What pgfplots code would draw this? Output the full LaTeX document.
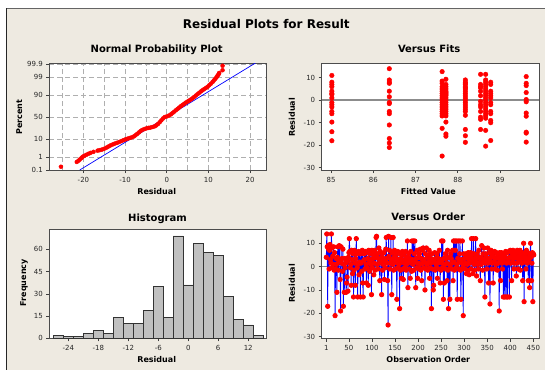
\documentclass[border=0pt]{standalone}
\usepackage{fontspec}
\setmainfont{DejaVu Sans}
\usepackage{pgfplots}
\pgfplotsset{compat=1.18}
\usepackage{pgfplotstable}
\definecolor{bg}{RGB}{238,234,225}
\definecolor{frm}{RGB}{100,100,100}
\definecolor{hbar}{RGB}{192,192,192}
\definecolor{grd}{RGB}{175,175,175}
\definecolor{pred}{RGB}{255,0,0}
\definecolor{pblue}{RGB}{0,0,255}

\pgfplotsset{
  mp/.style={
    scale only axis,
    axis background/.style={fill=white},
    axis line style={draw=black!70, line width=1pt},
    tick align=outside, tick pos=left,
    major tick length=3pt,
    tick style={black!75, line width=0.6pt},
    tick label style={font=\fontsize{7}{8}\selectfont, text=black!85},
    xticklabel style={yshift=-0.5pt},
    clip=true,
  }
}

\pgfplotstableread[row sep=\\]{
y\\
4\\14\\8.5\\-17\\9\\7.5\\-1\\7\\9.5\\3\\
1.5\\14\\8\\-0.5\\4.5\\1\\8.5\\-1.5\\6\\-21\\
-1\\3.5\\1\\-11\\4\\8.5\\-1.5\\2\\9\\3\\
-5.5\\-19\\8.5\\1.5\\3.5\\-2\\7.5\\-17\\1\\-11\\
3.5\\-0.5\\1.5\\-11\\-7\\-4.5\\2.5\\-10.5\\4\\6\\
12\\6.5\\-0.5\\1\\-8\\7\\3\\-3\\5.5\\-13\\
-1.5\\7\\1.5\\-8\\3.5\\12\\5.5\\-0.5\\-13\\1\\
6.5\\-3.5\\2\\5.5\\-13\\1.5\\6\\-2\\7\\-7\\
-13\\2.5\\5.5\\3\\-1\\6.5\\1\\-7\\6\\-0.5\\
3.5\\-8\\7\\1.5\\-2\\5.5\\3\\1\\-12\\7\\
-0.5\\3.5\\5.5\\-3.5\\1.5\\7\\-1.5\\4\\12.5\\13\\
1\\5.5\\-1\\3.5\\8\\1.5\\-6\\6.5\\2.5\\3.5\\
-12\\5.5\\-1.5\\1\\3.5\\6\\-5.5\\2\\-0.5\\7.5\\
12.5\\3.5\\1.5\\-6\\-25\\13\\4.5\\7\\-1\\1.5\\
12.5\\3\\-12\\6\\1\\12.5\\-1.5\\4\\7\\2.5\\
-1\\5.5\\3.5\\-14\\1.5\\6.5\\-0.5\\3\\1\\-18\\
5.5\\-1.5\\3.5\\-5\\2\\6.5\\-1\\-5.5\\5\\1.5\\
-0.5\\3\\6.5\\-1.5\\1\\4\\11\\-9\\2.5\\5.5\\
-1\\3.5\\-5\\6.5\\1.5\\-2\\11\\3\\1\\11\\
-1.5\\5.5\\11\\2\\-9\\3.5\\-0.5\\7\\-5\\1.5\\
4\\-1\\5.5\\1\\7.5\\-1.5\\3.5\\-6\\1.5\\7\\
8\\-0.5\\3\\2\\-10\\5.5\\-1\\8\\1\\4\\
-1.5\\5\\2\\7\\-5\\-0.5\\3.5\\1.5\\-18\\5.5\\
-1\\3\\-10\\-8\\2\\6\\-1.5\\3.5\\1\\-0.5\\
5.5\\-5\\1.5\\3.5\\-1\\7\\2.5\\-7\\3\\-1.5\\
11\\1.5\\-0.5\\11\\-14\\3.5\\-7\\1\\5.5\\-1\\
3.5\\1.5\\-6\\7\\-1.5\\-18\\4\\1\\-14\\-0.5\\
5.5\\3.5\\-1\\1.5\\7\\-6\\11\\2\\-1.5\\11\\
7\\-0.5\\11\\1\\-14\\3.5\\11\\-1\\2\\5.5\\
11\\-1.5\\-14\\3\\1.5\\11\\-0.5\\-21\\5.5\\1\\
3.5\\-1\\1.5\\5.5\\-3\\4\\1\\-1.5\\6\\3\\
-3.5\\1.5\\4.5\\6\\-1\\12\\2.5\\3.5\\-3\\12\\
5.5\\1\\-1.5\\3.5\\12\\2\\-4\\5.5\\1\\4\\
-1\\7\\3.5\\1.5\\-6\\4\\1\\9\\3.5\\-1.5\\
5.5\\2\\8\\3\\-13\\1.5\\5.5\\4\\-1\\3\\
8\\1.5\\-7\\3.5\\6\\-16\\2\\7\\4\\-1\\
1.5\\5.5\\-7\\4\\2\\6.5\\-1\\3.5\\1\\6\\
4\\-1.5\\5.5\\1.5\\3.5\\-19\\6\\2\\-6\\4.5\\
6\\1.5\\-1\\3.5\\-13\\5.5\\2\\-13\\4\\6.5\\
-13\\1.5\\6\\-13\\3.5\\2\\6.5\\-13\\4\\7\\
1.5\\4\\-6\\5.5\\2\\7\\3.5\\-1\\1.5\\6\\
4\\5.5\\-4\\1.5\\7\\3.5\\-1\\6\\2\\4.5\\
7\\-1.5\\5.5\\3.5\\1.5\\6\\-6\\4\\10\\-15\\
2\\5.5\\3.5\\-1\\7\\4\\1.5\\6\\-6\\3.5\\
2\\-9\\5.5\\10\\4\\-6\\1.5\\6\\-15\\5.5\\
5\\
}\orderdata

\begin{document}
\begin{tikzpicture}
\fill[white] (0pt,0pt) rectangle (545pt,-370pt);
\fill[bg] (6pt,-8pt) rectangle (545pt,-370pt);
\draw[frm, line width=1.6pt] (6pt,-8.6pt) -- (545pt,-8.6pt);
\draw[black!85, line width=1.3pt] (6.4pt,-8pt) -- (6.4pt,-370pt);

% ---------- Normal probability plot
\begin{axis}[mp, at={(49.3pt,-170pt)}, anchor=south west,
  width=217.4pt, height=107pt,
  xmin=-28.2, xmax=24, ymin=-3.0902, ymax=3.16,
  xtick={-20,-10,0,10,20}, xticklabels={-20,-10,0,10,20},
  minor xtick={-25,-15,-5,5,15},
  ytick={-3.0902,-2.3263,-1.2816,0,1.2816,2.3263,3.0902},
  yticklabels={0.1,1,10,50,90,99,99.9},
  minor tick length=0pt,
  grid=both,
  major grid style={grd, dash pattern=on 5pt off 3pt, line width=0.7pt},
  minor grid style={grd, dash pattern=on 5pt off 3pt, line width=0.7pt},
]
\addplot[pblue, line width=0.7pt] coordinates {(-20.9,-3.0902) (21.3,3.16)};
\addplot[only marks, mark=*, mark size=2pt, pred, mark options={draw=pred, fill=pred}] coordinates {
(-25.4,-2.90)
(-21.6,-2.62) (-21.2,-2.55) (-20.9,-2.48) (-20.5,-2.40) (-20.2,-2.32) (-19.8,-2.26)
(-19.3,-2.20) (-18.8,-2.14) (-18.3,-2.09) (-17.6,-2.03) (-16.6,-1.96) (-16.1,-1.93)
(-15.6,-1.90) (-15.1,-1.86) (-14.6,-1.80) (-14.2,-1.75) (-13.8,-1.69) (-13.4,-1.64)
(-12.9,-1.59) (-12.4,-1.54) (-11.9,-1.50) (-11.4,-1.45) (-10.9,-1.40) (-10.4,-1.35)
(-9.9,-1.30) (-9.4,-1.26) (-8.9,-1.22) (-8.4,-1.18) (-7.9,-1.13) (-7.5,-1.06)
(-7.1,-0.98) (-6.7,-0.90) (-6.3,-0.82) (-5.9,-0.75) (-5.4,-0.70) (-4.9,-0.66)
(-4.4,-0.63) (-3.9,-0.61) (-3.4,-0.58) (-2.9,-0.54) (-2.5,-0.48) (-2.1,-0.40)
(-1.7,-0.30) (-1.3,-0.19) (-0.9,-0.08) (-0.5,0.00) (0.0,0.04) (0.5,0.09)
(1.0,0.16) (1.4,0.24) (1.8,0.32) (2.2,0.40) (2.6,0.48) (3.0,0.56) (3.4,0.64)
(3.8,0.71) (4.2,0.78) (4.6,0.85) (5.0,0.91) (5.4,0.97) (5.8,1.03) (6.2,1.10)
(6.6,1.18) (7.0,1.26) (7.4,1.34) (7.8,1.42) (8.2,1.50) (8.6,1.57) (9.0,1.64)
(9.4,1.70) (9.8,1.77) (10.2,1.86) (10.6,1.95) (11.0,2.05) (11.3,2.14) (11.6,2.22)
(11.9,2.31) (12.1,2.38) (12.3,2.45) (12.5,2.52) (12.6,2.58) (13.4,2.74) (13.4,3.00)
};
\end{axis}

% ---------- Versus fits
\begin{axis}[mp, at={(321.7pt,-170pt)}, anchor=south west,
  width=217.6pt, height=106.5pt,
  xmin=84.78, xmax=89.93, ymin=-31, ymax=16.3,
  xtick={85,86,87,88,89}, xticklabels={85,86,87,88,89},
  ytick={-30,-20,-10,0,10}, yticklabels={-30,-20,-10,0,10},
]
\addplot[gray!90, line width=1.6pt] coordinates {(84.78,0) (89.93,0)};
\addplot[only marks, mark=*, mark size=2.3pt, pred, mark options={draw=pred, fill=pred}] coordinates {
(85.02,11) (85.02,8) (85.02,7) (85.02,6) (85.02,4) (85.02,3) (85.02,2.5) (85.02,1)
(85.02,-1) (85.02,-2) (85.02,-3) (85.02,-5) (85.02,-6) (85.02,-9.7) (85.02,-14) (85.02,-18)
(86.38,14) (86.38,9) (86.38,8) (86.38,7.5) (86.38,4) (86.38,1.5) (86.38,-1) (86.38,-1.5)
(86.38,-5) (86.38,-6) (86.38,-11) (86.38,-17) (86.38,-19) (86.38,-21)
(87.63,12.7) (87.63,8.5) (87.63,7.5) (87.63,6) (87.63,5) (87.63,4) (87.63,3) (87.63,2)
(87.63,1) (87.63,0) (87.63,-1) (87.63,-2) (87.63,-3) (87.63,-4) (87.63,-5) (87.63,-6)
(87.63,-7) (87.63,-12.5) (87.63,-24.8)
(87.72,9.3) (87.72,7) (87.72,6) (87.72,5) (87.72,4) (87.72,3.5) (87.72,3) (87.72,2.5)
(87.72,2) (87.72,1) (87.72,0) (87.72,-1) (87.72,-2) (87.72,-3) (87.72,-4) (87.72,-5)
(87.72,-6) (87.72,-7) (87.72,-9.7) (87.72,-15) (87.72,-16)
(88.18,9) (88.18,8) (88.18,7.5) (88.18,7) (88.18,6) (88.18,5.5) (88.18,5) (88.18,4)
(88.18,3) (88.18,2) (88.18,1) (88.18,0) (88.18,-1) (88.18,-2) (88.18,-3) (88.18,-4)
(88.18,-5) (88.18,-6.7) (88.18,-13) (88.18,-15.8) (88.18,-18.7)
(88.54,11.5) (88.54,7) (88.54,6) (88.54,5.5) (88.54,4) (88.54,2) (88.54,-0.5) (88.54,-2)
(88.54,-3) (88.54,-5) (88.54,-7.5) (88.54,-8.5) (88.54,-13)
(88.66,11.5) (88.66,9) (88.66,8) (88.66,7) (88.66,6) (88.66,5) (88.66,4) (88.66,3)
(88.66,2) (88.66,1) (88.66,0) (88.66,-1) (88.66,-2) (88.66,-3) (88.66,-4) (88.66,-5)
(88.66,-6) (88.66,-7) (88.66,-8) (88.66,-13.4) (88.66,-20.4)
(88.78,8) (88.78,7) (88.78,4) (88.78,3) (88.78,2) (88.78,1) (88.78,-1) (88.78,-2)
(88.78,-5) (88.78,-6) (88.78,-9) (88.78,-10) (88.78,-17.9)
(89.62,10.5) (89.62,7.5) (89.62,6.5) (89.62,3.4) (89.62,0.3) (89.62,-0.7) (89.62,-5.7)
(89.62,-7.1) (89.62,-14.2) (89.62,-14.6) (89.62,-18.6)
};
\end{axis}

% ---------- Histogram
\begin{axis}[mp, at={(49.3pt,-338.3pt)}, anchor=south west,
  width=217.4pt, height=109pt,
  xmin=-27.8, xmax=15.7, ymin=0, ymax=73.5,
  xtick={-24,-18,-12,-6,0,6,12}, xticklabels={-24,-18,-12,-6,0,6,12},
  ytick={0,15,30,45,60}, yticklabels={0,15,30,45,60},
]
\addplot[ybar, bar width=2, bar shift=0pt, fill=hbar, draw=black!80, line width=0.8pt] coordinates {
(-26,2) (-24,1) (-22,1) (-20,3) (-18,5) (-16,3) (-14,14) (-12,10) (-10,10) (-8,19)
(-6,35) (-4,14) (-2,69) (0,36) (2,64) (4,58) (6,56) (8,28) (10,13) (12,9) (14,2)
};
\end{axis}

% ---------- Versus order
\begin{axis}[mp, at={(321.7pt,-338.5pt)}, anchor=south west,
  width=217.6pt, height=109.2pt,
  xmin=-9, xmax=463, ymin=-30.8, ymax=16,
  xtick={1,50,100,150,200,250,300,350,400,450},
  xticklabels={1,50,100,150,200,250,300,350,400,450},
  ytick={-30,-20,-10,0,10}, yticklabels={-30,-20,-10,0,10},
]
\addplot[gray!90, line width=1.6pt] coordinates {(-9,0) (463,0)};
\addplot[pblue, line width=0.8pt, mark=*, mark size=2.2pt, mark options={draw=pred, fill=pred}]
  table[x expr=\coordindex+1, y=y] {\orderdata};
\end{axis}

% ---------- texts
\node[font=\bfseries\fontsize{12}{14}\selectfont, anchor=base] at (266.3pt,-28.5pt) {Residual Plots for Result};
\node[font=\bfseries\fontsize{10}{12}\selectfont, anchor=base] at (156.7pt,-52.7pt) {Normal Probability Plot};
\node[font=\bfseries\fontsize{10}{12}\selectfont, anchor=base] at (429.2pt,-52.7pt) {Versus Fits};
\node[font=\bfseries\fontsize{10}{12}\selectfont, anchor=base] at (157.5pt,-221.7pt) {Histogram};
\node[font=\bfseries\fontsize{10}{12}\selectfont, anchor=base] at (428.3pt,-220.7pt) {Versus Order};
\node[font=\bfseries\fontsize{8}{9}\selectfont, anchor=base] at (156.7pt,-194pt) {Residual};
\node[font=\bfseries\fontsize{8}{9}\selectfont, anchor=base] at (428.3pt,-194pt) {Fitted Value};
\node[font=\bfseries\fontsize{8}{9}\selectfont, anchor=base] at (156.7pt,-362.3pt) {Residual};
\node[font=\bfseries\fontsize{8}{9}\selectfont, anchor=base] at (428.3pt,-362.3pt) {Observation Order};
\node[font=\bfseries\fontsize{8}{9}\selectfont, rotate=90] at (19.3pt,-117pt) {Percent};
\node[font=\bfseries\fontsize{8}{9}\selectfont, rotate=90] at (292pt,-117.3pt) {Residual};
\node[font=\bfseries\fontsize{8}{9}\selectfont, rotate=90] at (24pt,-282.7pt) {Frequency};
\node[font=\bfseries\fontsize{8}{9}\selectfont, rotate=90] at (292pt,-283.3pt) {Residual};

\pgfresetboundingbox
\path (0pt,0pt) rectangle (545pt,-370pt);
\end{tikzpicture}
\end{document}
